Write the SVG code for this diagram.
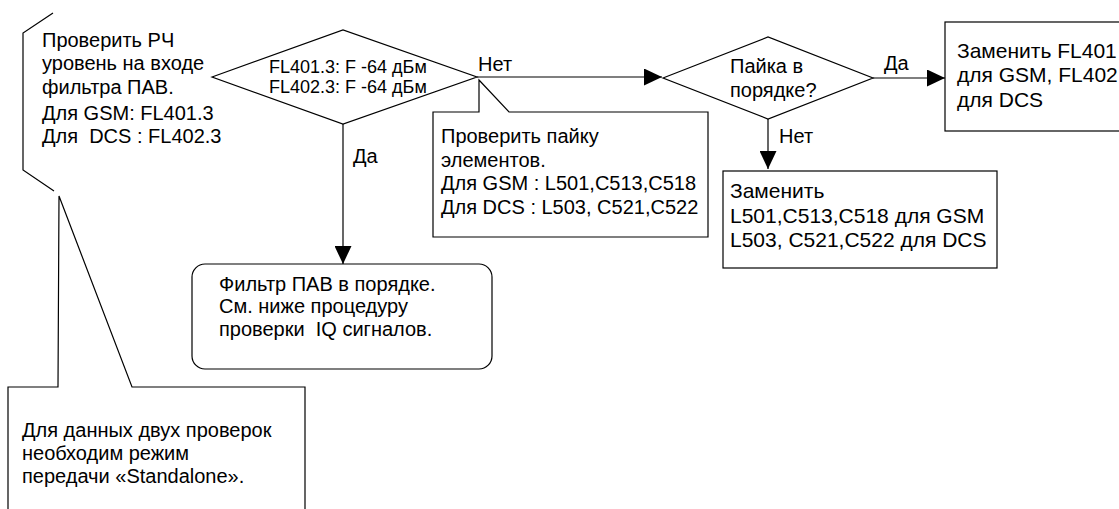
<svg xmlns="http://www.w3.org/2000/svg" width="1119" height="509" viewBox="0 0 1119 509">
<defs>
<style>
text{font-family:"Liberation Sans",Arial,sans-serif;font-size:20px;fill:#000;white-space:pre}
.sm{font-size:18px}
.lg{font-size:21px}
.ln{fill:none;stroke:#000;stroke-width:1.2}
.bx{fill:#fff;stroke:#000;stroke-width:1.2}
</style>
<marker id="ah" markerUnits="userSpaceOnUse" markerWidth="18" markerHeight="17" refX="18" refY="8.5" orient="auto">
<path d="M0,0 L18,8.5 L0,17 Z" fill="#000"/>
</marker>
</defs>
<rect width="1119" height="509" fill="#fff"/>

<g id="connectors">
<line class="ln" x1="477" y1="77" x2="662" y2="77" marker-end="url(#ah)"/>
<line class="ln" x1="873" y1="78" x2="945" y2="78" marker-end="url(#ah)"/>
<line class="ln" x1="768" y1="119" x2="768" y2="169" marker-end="url(#ah)"/>
<line class="ln" x1="343" y1="124" x2="343" y2="264" marker-end="url(#ah)"/>
<text x="478" y="71">Нет</text>
<text x="884" y="70">Да</text>
<text x="779" y="143">Нет</text>
<text x="353" y="163">Да</text>
</g>

<g id="note-left">
<path class="ln" d="M53,13 L23,33 L23,170 L54,191"/>
<text x="42" y="47">Проверить РЧ</text>
<text x="42" y="70">уровень на входе</text>
<text x="42" y="94">фильтра ПАВ.</text>
<text x="42" y="120">Для GSM: FL401.3</text>
<text x="42" y="143" xml:space="preserve">Для  DCS : FL402.3</text>
</g>

<g id="note-bottom">
<path class="bx" d="M59,196 L132,387 L305,387 L305,515 L8,515 L8,387 L58,387 Z"/>
<text x="22" y="437">Для данных двух проверок</text>
<text x="22" y="460">необходим режим</text>
<text x="22" y="483">передачи «Standalone».</text>
</g>

<g id="decision-1">
<polygon class="bx" points="212,77 343,30 477,77 343,124"/>
<text class="sm" x="269" y="73">FL401.3: F -64 дБм</text>
<text class="sm" x="269" y="93">FL402.3: F -64 дБм</text>
</g>

<g id="note-solder">
<path class="bx" d="M479,80 L509,112 L708,112 L708,237 L433,237 L433,112 L479,112 Z"/>
<text x="441" y="143">Проверить пайку</text>
<text x="441" y="167">элементов.</text>
<text x="441" y="190">Для GSM : L501,C513,C518</text>
<text x="441" y="214">Для DCS : L503, C521,C522</text>
</g>

<g id="decision-2">
<polygon class="bx" points="663,78 768,37 873,78 768,119"/>
<text x="730" y="73">Пайка в</text>
<text x="730" y="97">порядке?</text>
</g>

<g id="box-replace-fl">
<rect class="bx" x="945" y="22" width="190" height="109"/>
<text class="lg" x="957" y="58">Заменить FL401</text>
<text class="lg" x="957" y="82">для GSM, FL402</text>
<text class="lg" x="957" y="107">для DCS</text>
</g>

<g id="box-replace-lc">
<rect class="bx" x="723" y="171" width="274" height="97"/>
<text class="lg" x="730" y="198">Заменить</text>
<text class="lg" x="730" y="223">L501,C513,C518 для GSM</text>
<text class="lg" x="730" y="247">L503, C521,C522 для DCS</text>
</g>

<g id="box-filter-ok">
<rect class="bx" x="192" y="264" width="300" height="105" rx="13" ry="13"/>
<text x="219" y="291">Фильтр ПАВ в порядке.</text>
<text x="219" y="313">См. ниже процедуру</text>
<text x="219" y="336" xml:space="preserve">проверки  IQ сигналов.</text>
</g>
</svg>
